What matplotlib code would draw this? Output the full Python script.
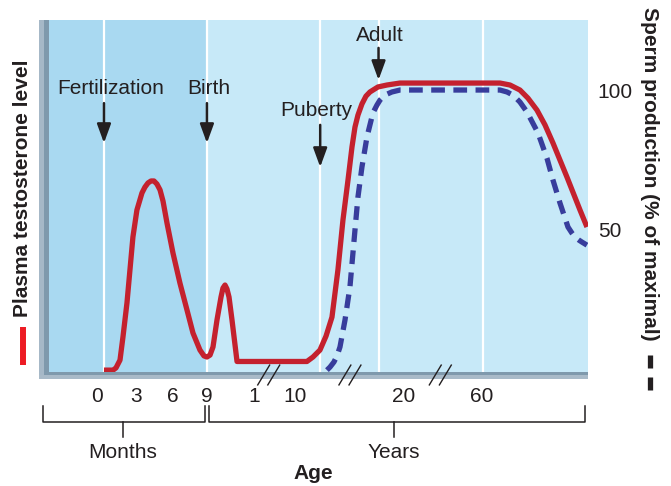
import matplotlib
matplotlib.use('Agg')
import matplotlib.pyplot as plt
from matplotlib.lines import Line2D
from matplotlib.patches import Rectangle

plt.rcParams['font.family'] = ['Liberation Sans', 'DejaVu Sans']

# x is a position along the (broken) age axis: 0-9 = months of gestation,
# everything after birth is squeezed onto the same scale
red_x = [0.0, 0.79, 1.05, 1.40, 1.66, 2.01, 2.27, 2.53, 2.88, 3.32, 3.58, 3.85,
         4.11, 4.37, 4.63, 4.90, 5.16, 5.51, 6.03, 6.64, 7.26, 7.78, 8.39,
         8.74, 9.00, 9.27, 9.53, 9.88, 10.23, 10.40, 10.58, 10.75, 10.93,
         11.19, 11.63, 17.74, 18.27, 18.88, 19.41, 19.93, 20.45, 20.89, 21.33,
         21.68, 21.94, 22.20, 22.55, 22.90, 23.25, 23.95, 24.74, 25.87, 34.62,
         35.49, 36.36, 37.06, 37.85, 38.55, 39.25, 40.47, 41.61, 42.22]
red_y = [-0.4, -0.4, 0.4, 3.2, 11.5, 23.7, 35.5, 47.3, 57.0, 63.1, 65.2, 66.7,
         67.4, 67.4, 66.3, 64.2, 60.2, 52.3, 41.6, 30.8, 21.1, 12.9, 6.8,
         4.7, 4.3, 5.0, 7.9, 17.6, 25.8, 29.0, 30.1, 28.7, 25.8,
         17.6, 2.7, 2.7, 4.3, 6.8, 11.8, 18.6, 35.5, 53.4, 67.7,
         79.6, 86.7, 91.0, 95.0, 97.8, 99.3, 101.1, 101.8, 102.5, 102.5,
         101.8, 100.0, 97.1, 92.8, 87.5, 81.0, 68.8, 57.0, 50.9]

sperm_x = [19.49, 19.76, 20.10, 20.37, 20.63, 21.07, 21.50, 21.94, 22.20, 22.55,
           22.99, 23.51, 23.86, 24.13, 24.56, 25.17, 25.87, 34.62, 35.23, 35.75,
           36.36, 36.98, 37.94, 38.72, 39.25, 39.86, 40.56, 40.91, 41.17, 41.52,
           41.78, 42.22]
sperm_y = [-0.4, 0.7, 2.5, 4.7, 7.9, 17.6, 29.4, 49.8, 61.6, 72.4,
           83.2, 91.8, 94.6, 96.4, 98.2, 99.3, 100.0, 100.0, 99.3, 98.2,
           95.7, 92.1, 84.6, 75.6, 67.7, 59.5, 50.9, 48.7, 47.3, 46.2,
           45.5, 44.4]

event_x = [0.0, 9.0, 18.9, 24.0, 33.1]
age_tick_pos = [-0.6, 2.8, 6.0, 9.0, 13.1, 16.7, 26.2, 33.0]
age_tick_labels = ['0', '3', '6', '9', '1', '10', '20', '60']
axis_breaks = [14.4, 21.5, 29.4]
sperm_ticks = [50, 100]

# (label, arrow x, label y, arrow top, arrow tip)
events = [
    ('Fertilization', 0.0, 100.4, 95.3, 81.0),
    ('Birth', 9.0, 100.4, 95.3, 81.0),
    ('Puberty', 18.9, 92.8, 87.5, 72.4),
    ('Adult', 24.0, 119.7, 115.1, 103.6),
]
event_label_dx = [0.6, 0.2, -0.35, 0.15]

INK = '#231f20'
DARK = '#a9d9f1'
LIGHT = '#c7e9f8'
RED = '#c4212e'
BLUE = '#383d9c'
FS = 15

W, H = 671, 486
fig = plt.figure(figsize=(W / 100, H / 100), dpi=100)


def fx(px):
    return px / W


def fy(py):
    return 1 - py / H


ax = fig.add_axes([fx(39), fy(379), 549 / W, 359 / H])
x0, x1 = -5.68, 42.31
ax.set_xlim(x0, x1)
ax.set_ylim(-3.58, 125.1)
ax.set_facecolor(LIGHT)
for s in ax.spines.values():
    s.set_visible(False)

ax.axvspan(x0, 9.0, color=DARK, lw=0, zorder=0)
for ex in event_x:
    ax.axvline(ex, ymin=7 / 359, ymax=1, color='white', lw=1.6, zorder=1)

# bevelled frame on the left and bottom
ax.add_patch(Rectangle((0, 0), 5 / 549, 1, transform=ax.transAxes,
                       color='#a6b8c7', lw=0, zorder=5))
ax.add_patch(Rectangle((5 / 549, 0), 5 / 549, 1, transform=ax.transAxes,
                       color='#7f99ac', lw=0, zorder=5))
ax.add_patch(Rectangle((0, 0), 1, 4 / 359, transform=ax.transAxes,
                       color='#a9bac8', lw=0, zorder=5))
ax.add_patch(Rectangle((5 / 549, 4 / 359), 1, 3 / 359, transform=ax.transAxes,
                       color='#7f99ac', lw=0, zorder=5))

ax.plot(sperm_x, sperm_y, color=BLUE, lw=3.8, linestyle=(0, (2.6, 1.6)),
        dash_capstyle='butt', dash_joinstyle='round', zorder=3)
ax.plot(red_x, red_y, color=RED, lw=3.8, solid_joinstyle='round',
        solid_capstyle='butt', zorder=4)

for (name, ex, ly, top, tip), dx in zip(events, event_label_dx):
    ax.text(ex + dx, ly, name, ha='center', va='center', fontsize=FS,
            color=INK, zorder=6)
    ax.annotate('', xy=(ex, tip), xytext=(ex, top),
                arrowprops=dict(arrowstyle='-|>,head_length=1.15,head_width=0.42',
                                mutation_scale=10, lw=1.8, color=INK,
                                shrinkA=0, shrinkB=0), zorder=6)

# broken-axis marks
for bx in axis_breaks:
    for off in (-0.44, 0.44):
        ax.plot([bx + off - 0.52, bx + off + 0.52], [-5.7, 1.4], color=INK,
                lw=1.0, clip_on=False, zorder=7)

ax.set_xticks(age_tick_pos, age_tick_labels)
ax.tick_params(axis='x', length=0, pad=6, labelsize=FS, colors=INK)
ax.yaxis.tick_right()
ax.set_yticks(sperm_ticks, [str(v) for v in sperm_ticks])
ax.tick_params(axis='y', length=0, pad=7, labelsize=FS, colors=INK)

ax.yaxis.set_label_position('right')
ax.set_ylabel('Sperm production (% of maximal)', rotation=-90,
              fontsize=FS, fontweight='bold', color=INK)
ax.yaxis.label.set_va('center')
ax.yaxis.label.set_ha('center')
ax.yaxis.set_label_coords((650 - 39) / 549, (379 - 174) / 359)

fig.text(fx(23), fy(188), 'Plasma testosterone level', rotation=90,
         ha='center', va='center', fontsize=FS, fontweight='bold', color=INK)

# line keys next to the two axis titles
fig.add_artist(Line2D([fx(23), fx(23)], [fy(327), fy(365)], lw=4.3,
                      color='#ed1c24', solid_capstyle='butt'))
for a, b in ((355, 368), (377, 390)):
    fig.add_artist(Line2D([fx(650), fx(650)], [fy(a), fy(b)], lw=3.8,
                          color=INK, solid_capstyle='butt'))

# month / year brackets under the axis
for left, right, mid, label in ((43, 205, 123, 'Months'), (209, 585, 394, 'Years')):
    fig.add_artist(Line2D([fx(left), fx(left), fx(right), fx(right)],
                          [fy(406), fy(422), fy(422), fy(406)],
                          lw=1.1, color=INK))
    fig.add_artist(Line2D([fx(mid), fx(mid)], [fy(422), fy(437)],
                          lw=1.1, color=INK))
    fig.text(fx(mid), fy(452), label, ha='center', va='center',
             fontsize=FS, color=INK)

fig.text(fx(313), fy(473), 'Age', ha='center', va='center', fontsize=FS,
         fontweight='bold', color=INK)

fig.savefig('out.png', dpi=100, facecolor='white')
